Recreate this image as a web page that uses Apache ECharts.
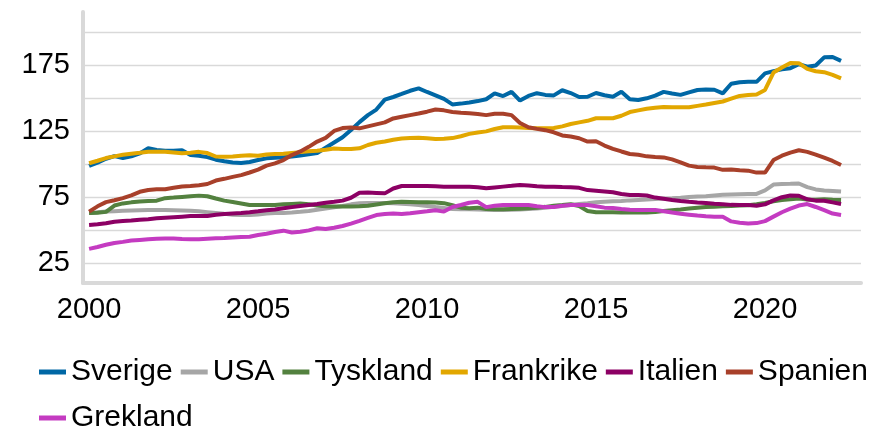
<!DOCTYPE html>
<html>
<head>
<meta charset="utf-8">
<title>Index</title>
<script src="https://cdn.jsdelivr.net/npm/echarts@6/dist/echarts.min.js"></script>
<style>
    html, body { margin: 0; padding: 0; background: #fff; }
    #chart { width: 869px; height: 427px; }
</style>
</head>
<body>
<div id="chart"></div>
<script type="text/javascript">
    // kvartalsdata 2000K1 - 2022K2
    var startYear = 2000;
    var quarters = [];
    for (var i = 0; i < 90; i++) {
        quarters.push((startYear + Math.floor(i / 4)) + 'K' + (i % 4 + 1));
    }

    var yearLabels = [2000, 2005, 2010, 2015, 2020];
    var gridValues = [25, 50, 75, 100, 125, 150, 175, 200];
    var yLabels = [25, 75, 125, 175];

    var names = ['Sverige', 'USA', 'Tyskland', 'Frankrike', 'Italien', 'Spanien', 'Grekland'];
    var colors = ['#0067A5', '#A6A6A6', '#53813F', '#E2A700', '#8C0064', '#A8402A', '#C43BC1'];

    var sverige = [
        98.5, 101, 104, 106, 104.5, 105.8, 108, 111.9, 110.6, 110,
        110, 110.5, 106.8, 106.3, 105.2, 103.3, 102.1, 101.2, 100.7, 101.5,
        103, 104.3, 104.7, 105.2, 105.7, 106.5, 107.3, 108.3, 112.3, 116.3,
        120.3, 125.7, 131.7, 137, 141.2, 148.7, 150.7, 153, 155.4, 157.2,
        154.5, 152, 149.3, 145.1, 145.7, 146.6, 147.6, 149, 153.4, 151.4,
        154.6, 148, 151.5, 153.6, 152.3, 151.9, 155.8, 153.7, 150.7, 150.9,
        153.7, 152, 150.9, 154.6, 149, 148.4, 149.7, 151.7, 154.6, 153.4,
        152.3, 154.2, 156, 156.3, 156.2, 153.5, 160.7, 161.9, 162.2, 162.2,
        168.6, 170.3, 171.6, 172.5, 175.6, 173.6, 174.5, 180.7, 181, 178
    ];
    var usa = [
        63, 63.5, 64, 64.3, 64.6, 64.8, 65, 65.2, 65.3, 65.3,
        65.1, 64.9, 64.6, 64.2, 63.6, 63, 62.3, 61.7, 61.5, 61.5,
        61.9, 62.5, 62.9, 63, 63.4, 63.9, 64.5, 65.4, 66.3, 67.2,
        68.3, 69.5, 70.3, 70.6, 70.6, 70.5, 70.3, 70, 69.5, 69,
        68.3, 67.5, 66.8, 66, 65.8, 65.7, 65.6, 65.4, 65.3, 65.3,
        65.4, 65.6, 65.9, 66.4, 67, 67.6, 68.2, 69, 69.8, 70.4,
        71.1, 71.5, 71.8, 72.1, 72.5, 72.8, 73.1, 73.5, 74, 74.2,
        74.5, 75, 75.5, 75.6, 76.2, 76.7, 77, 77.2, 77.3, 77.4,
        80, 84.5, 84.8, 85, 85.3, 82.5, 80.8, 79.9, 79.6, 79.2
    ];
    var tyskland = [
        63, 63.2, 63.8, 68.6, 70.2, 71, 71.7, 72.1, 72.3, 74.2,
        74.6, 75.1, 75.6, 76.1, 75.6, 73.9, 72.3, 71.3, 70.2, 69,
        69, 69, 69, 69.5, 69.8, 70.1, 69.5, 68.6, 68.1, 67.8,
        67.8, 67.8, 68, 68.4, 69.4, 70.3, 71.1, 71.5, 71.3, 71.1,
        71.1, 70.9, 70.4, 68.8, 67, 66.5, 67, 66, 65.8, 65.8,
        66, 66.2, 66.5, 67, 67.6, 68.5, 69, 69.6, 68.3, 64.5,
        63.5, 63.6, 63.6, 63.3, 63.4, 63.6, 63.4, 63.7, 64.5, 65.1,
        65.6, 66.3, 67, 67.5, 67.7, 68, 68.2, 68.6, 68.9, 69.6,
        70.5, 71.8, 72.7, 73.3, 74, 73.2, 73, 73.3, 73, 72.8
    ];
    var frankrike = [
        100.6, 102.5, 104.5, 105.8, 107, 107.8, 108.5, 109.3, 109.3, 109.3,
        108.8, 108.1, 108.5, 109.2, 108.3, 105.7, 105.5, 105.7, 106.3, 106.6,
        106.2, 107.2, 107.6, 107.8, 108.4, 109, 109.6, 110, 110.8, 111.8,
        111.4, 111.3, 111.9, 114.4, 116.1, 117, 118.3, 119.3, 119.6, 119.9,
        119.5, 119, 119.2, 119.6, 121, 122.8, 123.9, 124.7, 126.5, 127.8,
        127.8, 127.6, 127.3, 127, 127, 127.2, 128.5, 130.3, 131.5, 132.7,
        134.6, 134.6, 134.6, 136.5, 139.3, 140.6, 141.8, 142.5, 143.2, 143,
        142.9, 142.9, 144, 145, 146.2, 147.3, 149.4, 151.5, 152.2, 152.6,
        156, 169.2, 173, 176.4, 176.3, 172, 170.2, 169.5, 167.5, 164.8
    ];
    var italien = [
        53.9, 54.4, 55.2, 56.4, 56.9, 57.2, 57.9, 58.3, 58.9, 59.4,
        59.8, 60.2, 60.6, 60.7, 60.7, 61.7, 62.2, 62.6, 62.9, 63.5,
        64.2, 65, 65.6, 66.5, 67.4, 68.2, 69, 69.8, 70.7, 71.4,
        72.3, 74.5, 78.2, 78.4, 78.1, 77.8, 81.5, 83.4, 83.4, 83.4,
        83.3, 83.1, 82.9, 82.9, 82.9, 82.9, 82.5, 81.7, 82.3, 82.9,
        83.5, 84.2, 83.8, 83.2, 82.9, 82.8, 82.6, 82.5, 82, 80.3,
        79.8, 79.3, 78.6, 77.3, 76.6, 76.6, 76.2, 74.6, 73.7, 72.8,
        72, 71.4, 70.9, 70.5, 69.9, 69.5, 69.1, 69, 69, 68.5,
        69.5, 72.5, 74.9, 76.2, 76, 73.3, 72.3, 72.2, 71, 69.8
    ];
    var spanien = [
        64, 68, 71.2, 72.6, 74.2, 76.3, 79, 80.3, 80.9, 80.9,
        82, 83, 83.3, 84, 84.9, 87.5, 88.8, 90.3, 91.6, 93.6,
        95.8, 98.8, 100.5, 103, 106.8, 109.5, 113, 117, 119.8, 125,
        127.2, 127.6, 127, 128.5, 130, 131.5, 134.5, 135.8, 137, 138.2,
        139.6, 141.2, 140.6, 139.4, 138.8, 138.4, 137.9, 137, 138, 138.1,
        137, 131, 127.8, 126.6, 125.6, 124, 121.6, 120.8, 119.5, 117,
        117.2, 114, 111.5, 109.5, 107.6, 107, 105.8, 105.3, 105, 103.5,
        101.3, 98.8, 97.8, 97.5, 97.3, 95.6, 95.9, 95.3, 95, 93.5,
        93.5, 103, 106.3, 108.6, 110.4, 109.2, 107.1, 104.8, 102.3, 99.3
    ];
    var grekland = [
        35.8, 37.2, 38.9, 40.3, 41.1, 42.1, 42.6, 43.1, 43.4, 43.7,
        43.6, 43.2, 43.1, 43.1, 43.5, 43.9, 44.1, 44.5, 44.8, 45,
        46.3, 47.3, 48.6, 49.6, 48.2, 48.7, 49.8, 51.4, 50.8, 51.8,
        53.1, 54.9, 57, 59.2, 61.4, 62.2, 62.6, 62.2, 62.8, 63.6,
        64.2, 65, 64, 67.5, 69, 70.7, 71.4, 67.4, 68.4, 69,
        69, 69, 69, 68, 67.4, 67.5, 68.4, 69, 69, 69,
        68, 67, 66.7, 66, 65.5, 65.3, 65.3, 65.3, 64.3, 63.3,
        62.4, 61.7, 61, 60.5, 60.2, 60.2, 56.6, 55.6, 55, 55.3,
        56.8, 60.2, 63.5, 66.2, 68.6, 69.7, 67.5, 65.1, 62.5, 61.5
    ];

    var allData = [sverige, usa, tyskland, frankrike, italien, spanien, grekland];

    // kvartal -> decimalår
    function toYear(q) {
        return parseInt(q.slice(0, 4), 10) + (parseInt(q.slice(5), 10) - 1) / 4;
    }

    var fontFamily = '"Liberation Sans", Arial, sans-serif';

    var series = names.map(function (name, k) {
        return {
            name: name,
            type: 'line',
            showSymbol: false,
            symbol: 'none',
            lineStyle: {width: 4, color: colors[k]},
            itemStyle: {color: colors[k]},
            data: allData[k].map(function (v, i) {
                return [toYear(quarters[i]), v];
            })
        };
    });

    var chart = echarts.init(document.getElementById('chart'), null, {renderer: 'canvas'});
    chart.setOption({
        animation: false,
        textStyle: {fontFamily: fontFamily},
        grid: {left: 83, right: 8, top: 12, bottom: 144, containLabel: false},
        legend: {
            data: names,
            left: 39,
            right: 0,
            top: 353,
            padding: 0,
            icon: 'rect',
            itemWidth: 27,
            itemHeight: 5,
            itemGap: 8,
            textStyle: {fontSize: 30, color: '#000', fontFamily: fontFamily, lineHeight: 38}
        },
        xAxis: {
            type: 'value',
            min: 1999.82,
            max: 2022.84,
            axisLine: {show: true, lineStyle: {color: '#d9d9d9', width: 4}},
            axisTick: {show: false},
            splitLine: {show: false},
            axisLabel: {
                customValues: yearLabels,
                margin: 12,
                fontSize: 29,
                color: '#000',
                fontFamily: fontFamily,
                formatter: function (v) { return String(Math.round(v)); }
            }
        },
        yAxis: {
            type: 'value',
            min: 10,
            max: 215,
            axisLine: {show: true, lineStyle: {color: '#d9d9d9', width: 4}},
            axisTick: {show: false, customValues: gridValues},
            splitLine: {show: true, lineStyle: {color: '#d9d9d9', width: 1.3}},
            axisLabel: {
                customValues: yLabels,
                margin: 13,
                fontSize: 29,
                color: '#000',
                fontFamily: fontFamily
            }
        },
        series: series
    });
</script>
</body>
</html>
